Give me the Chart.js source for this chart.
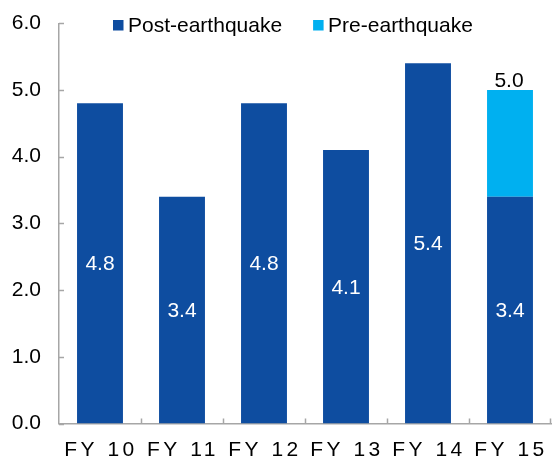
<!DOCTYPE html>
<html>
<head>
<meta charset="utf-8">
<script src="https://cdn.jsdelivr.net/npm/chart.js@4.4.1/dist/chart.umd.min.js"></script>
<style>
  html, body { margin: 0; padding: 0; background: #ffffff; }
  #wrap { width: 552px; height: 460px; }
</style>
</head>
<body>
<div id="wrap"><canvas id="chart" width="552" height="460"></canvas></div>
<script>
// Fiscal years on the horizontal axis
const categories = ['FY 10', 'FY 11', 'FY 12', 'FY 13', 'FY 14', 'FY 15'];
// Values after the earthquake
const postQuake = [4.8, 3.4, 4.8, 4.1, 5.4, 3.4];
// Values before the earthquake (only the last year has a component)
const preQuake = [null, null, null, null, null, 1.6];
// Vertical axis ticks
const yTicks = [0, 1, 2, 3, 4, 5, 6];

const FONT = '"Liberation Sans", Arial, sans-serif';
const DARK = '#0E4DA0';
const LIGHT = '#00B0F0';
const AXIS = '#A6A6A6';

// Inward tick marks on both axes
const tickMarks = {
  id: 'tickMarks',
  afterDraw(chart) {
    const { ctx, scales: { x, y }, chartArea } = chart;
    ctx.save();
    ctx.strokeStyle = AXIS;
    ctx.lineWidth = 1.5;
    ctx.beginPath();
    yTicks.forEach(v => {
      const py = Math.round(y.getPixelForValue(v)) + 0.5;
      ctx.moveTo(chartArea.left, py);
      ctx.lineTo(chartArea.left + 5, py);
    });
    for (let i = 0; i < categories.length; i++) {
      const px = i < categories.length - 1
        ? (x.getPixelForValue(i) + x.getPixelForValue(i + 1)) / 2
        : chartArea.right - 0.75;
      ctx.moveTo(Math.round(px) + 0.5, chartArea.bottom);
      ctx.lineTo(Math.round(px) + 0.5, chartArea.bottom - 5);
    }
    ctx.stroke();
    ctx.restore();
  }
};

// Spaced category labels under the axis
const categoryLabels = {
  id: 'categoryLabels',
  afterDraw(chart) {
    const { ctx, scales: { x } } = chart;
    ctx.save();
    ctx.font = '21px ' + FONT;
    ctx.fillStyle = '#000000';
    ctx.textAlign = 'center';
    ctx.textBaseline = 'middle';
    ctx.letterSpacing = '3.5px';
    categories.forEach((c, i) => {
      ctx.fillText(c, x.getPixelForValue(i) + 1, 450);
    });
    ctx.restore();
  }
};

// Value labels: inside the post-earthquake bars, total above stacked bars
const valueLabels = {
  id: 'valueLabels',
  afterDatasetsDraw(chart) {
    const { ctx } = chart;
    const postMeta = chart.getDatasetMeta(0);
    const preMeta = chart.getDatasetMeta(1);
    ctx.save();
    ctx.font = '21px ' + FONT;
    ctx.textAlign = 'center';
    postMeta.data.forEach((bar, i) => {
      const v = postQuake[i];
      ctx.fillStyle = '#ffffff';
      ctx.textBaseline = 'middle';
      ctx.fillText(v.toFixed(1), bar.x, (bar.y + bar.base) / 2 + 1);
      if (preQuake[i] != null) {
        const top = preMeta.data[i];
        const total = v + preQuake[i];
        ctx.fillStyle = '#000000';
        ctx.textBaseline = 'alphabetic';
        ctx.fillText(total.toFixed(1), top.x - 1, top.y - 3);
      }
    });
    ctx.restore();
  }
};

// Legend row across the top
const topLegend = {
  id: 'topLegend',
  afterDraw(chart) {
    const { ctx } = chart;
    ctx.save();
    ctx.font = '21px ' + FONT;
    ctx.textBaseline = 'middle';
    ctx.textAlign = 'left';
    let px = 113;
    chart.data.datasets.forEach((ds, i) => {
      ctx.fillStyle = ds.backgroundColor;
      ctx.fillRect(px, 20, 10.5, 10.5);
      px += 15;
      ctx.fillStyle = '#000000';
      ctx.fillText(ds.label, px, 26);
      px += ctx.measureText(ds.label).width + 31;
    });
    ctx.restore();
  }
};

new Chart(document.getElementById('chart'), {
  type: 'bar',
  data: {
    labels: categories,
    datasets: [
      { label: 'Post-earthquake', data: postQuake, backgroundColor: DARK,
        categoryPercentage: 1, barPercentage: 0.56 },
      { label: 'Pre-earthquake', data: preQuake, backgroundColor: LIGHT,
        categoryPercentage: 1, barPercentage: 0.56 }
    ]
  },
  options: {
    responsive: false,
    devicePixelRatio: 1,
    animation: false,
    layout: { padding: { top: 23.3, right: 1, left: 0, bottom: 0 } },
    plugins: { legend: { display: false }, tooltip: { enabled: false } },
    scales: {
      x: {
        stacked: true,
        grid: { display: false, drawTicks: false },
        border: { display: true, color: AXIS, width: 1.5 },
        ticks: { display: false },
        afterFit(scale) {
          scale.height = 36.5;
          scale.paddingLeft = 0;
          scale.paddingRight = 0;
        }
      },
      y: {
        stacked: true,
        min: 0,
        max: 6,
        grid: { display: false, drawTicks: false },
        border: { display: true, color: AXIS, width: 1.5 },
        ticks: {
          stepSize: 1,
          padding: 18,
          color: '#000000',
          font: { family: FONT, size: 21 },
          callback: v => Number(v).toFixed(1)
        },
        afterFit(scale) {
          scale.width = 59;
          scale.paddingTop = 0;
          scale.paddingBottom = 0;
        }
      }
    }
  },
  plugins: [tickMarks, categoryLabels, valueLabels, topLegend]
});
</script>
</body>
</html>
